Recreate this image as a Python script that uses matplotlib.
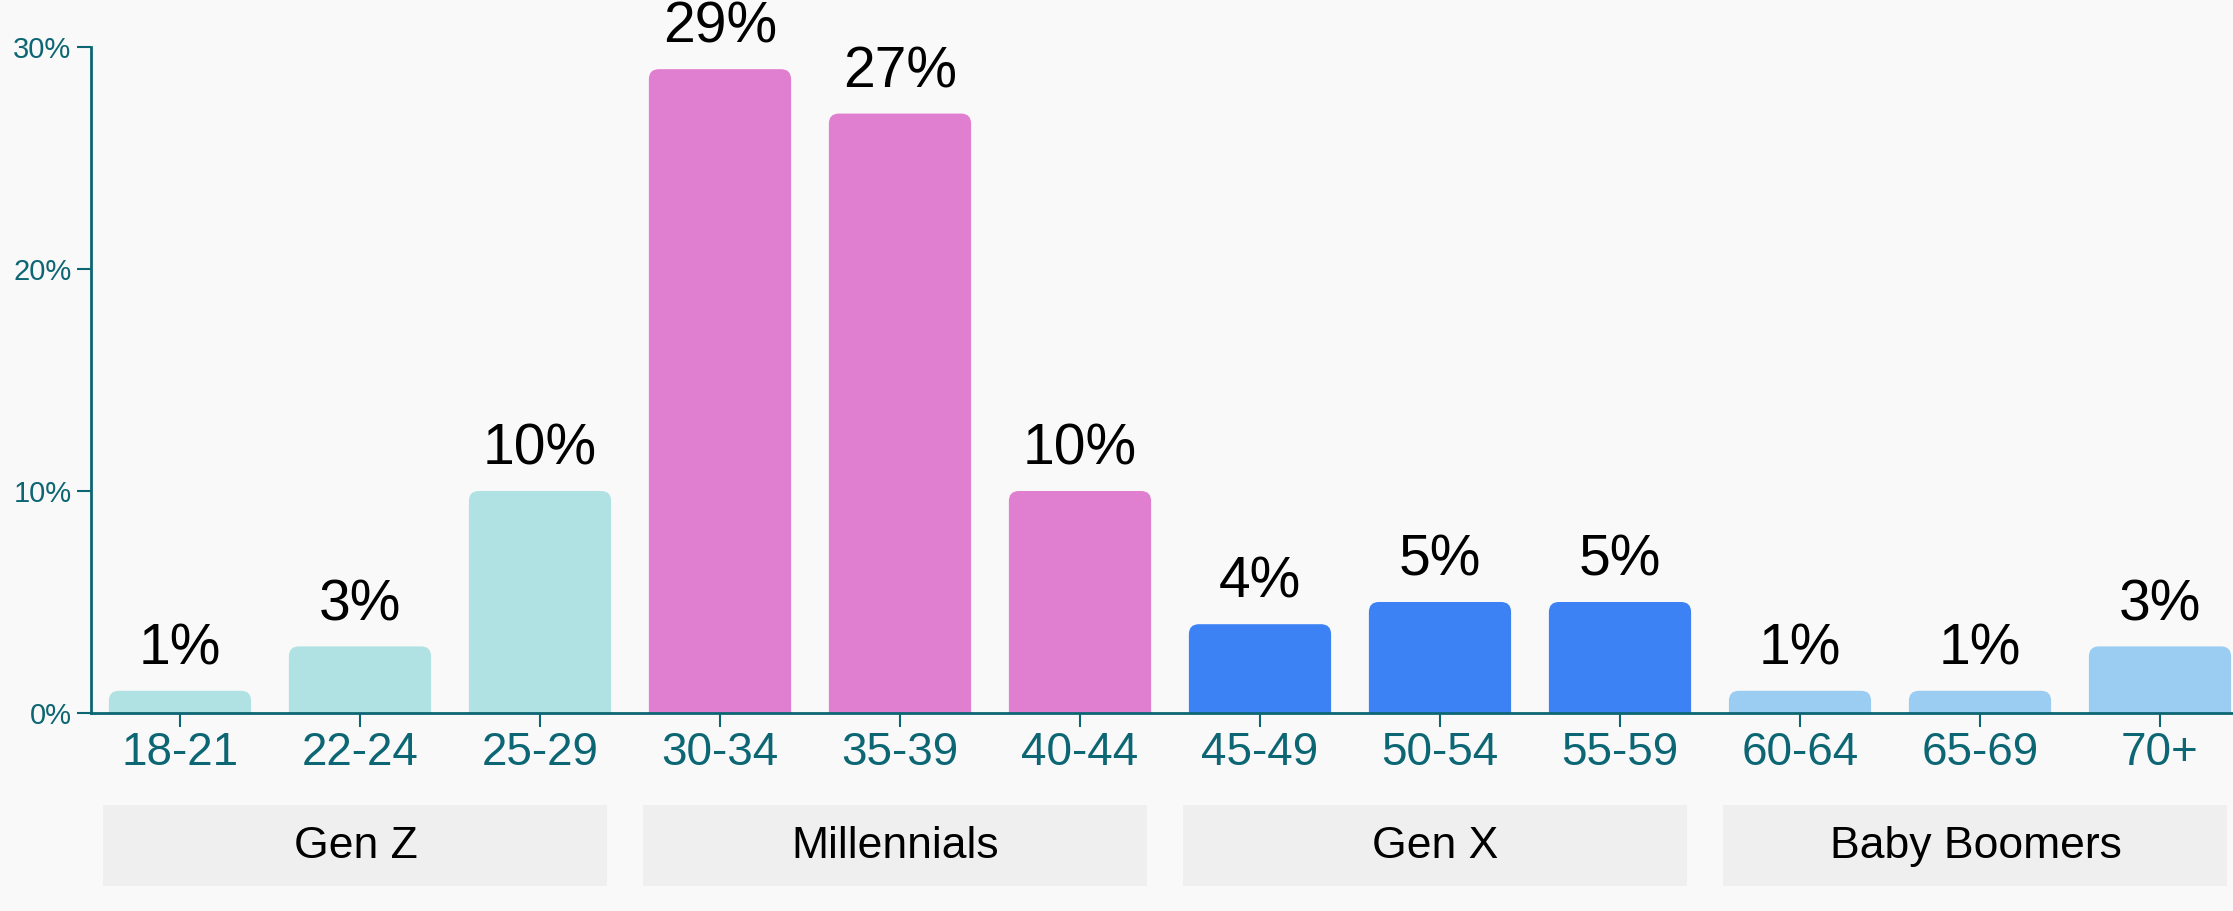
import matplotlib
matplotlib.use("Agg")
import matplotlib.pyplot as plt
from matplotlib.patches import FancyBboxPatch, Rectangle
import matplotlib.transforms as mtransforms

plt.rcParams['font.family'] = ['Liberation Sans', 'DejaVu Sans']

categories = ["18-21", "22-24", "25-29", "30-34", "35-39", "40-44",
              "45-49", "50-54", "55-59", "60-64", "65-69", "70+"]
values = [1, 3, 10, 29, 27, 10, 4, 5, 5, 1, 1, 3]
groups = ["Gen Z", "Millennials", "Gen X", "Baby Boomers"]
group_members = [[0, 1, 2], [3, 4, 5], [6, 7, 8], [9, 10, 11]]
group_colors = ["#b0e2e3", "#e07fcf", "#3d82f5", "#9bcdf3"]
yticks = [0, 10, 20, 30]

BG = "#f9f9f9"
TEAL = "#0d6673"
BOX = "#efefef"

fig = plt.figure(figsize=(22.33, 9.11), dpi=100, facecolor=BG)
ax = fig.add_axes([0.04075, 0.21734, 0.95925, 0.7311])
ax.set_facecolor(BG)

ax.set_xlim(-0.4944, 11.4056)
ax.set_ylim(0, 30)

fig.canvas.draw()
# pixels per data unit to build rounded corners with equal pixel radius
p0 = ax.transData.transform((0, 0))
p1 = ax.transData.transform((1, 1))
px_x = p1[0] - p0[0]
px_y = p1[1] - p0[1]
aspect = px_x / px_y
radius_px = 10
r_x = radius_px / px_x

bar_width = 0.79
for gi, members in enumerate(group_members):
    for i in members:
        v = values[i]
        patch = FancyBboxPatch((i - bar_width / 2, -2), bar_width, v + 2,
                               boxstyle=f"round,pad=0,rounding_size={r_x}",
                               mutation_aspect=aspect,
                               facecolor=group_colors[gi], edgecolor="none",
                               zorder=2, clip_on=True)
        ax.add_patch(patch)
        ax.annotate(f"{v}%", xy=(i, v), xytext=(0, 19), textcoords="offset points",
                    ha="center", va="baseline", fontsize=41, color="black",
                    annotation_clip=False)

ax.set_xticks(range(len(categories)))
ax.set_xticklabels(categories)
ax.set_yticks(yticks)
ax.set_yticklabels([f"{t}%" for t in yticks])

for s in ["top", "right"]:
    ax.spines[s].set_visible(False)
for s in ["left", "bottom"]:
    ax.spines[s].set_color(TEAL)
    ax.spines[s].set_linewidth(2)
    ax.spines[s].set_zorder(3)

ax.tick_params(axis="x", length=10, width=1.5, color=TEAL, labelcolor=TEAL,
               labelsize=33, pad=3)
ax.tick_params(axis="y", length=10, width=1.5, color=TEAL, labelcolor=TEAL,
               labelsize=21, pad=4)

# group boxes under the axis
trans = mtransforms.blended_transform_factory(ax.transData, ax.transAxes)
box_w = 2.8
for gi, members in enumerate(group_members):
    c = sum(members) / len(members) - 0.025
    rect = Rectangle((c - box_w / 2, -0.2598), box_w, 0.1217, transform=trans,
                     facecolor=BOX, edgecolor="none", clip_on=False, zorder=1)
    ax.add_patch(rect)
    ax.text(c, -0.1997, groups[gi], transform=trans, ha="center", va="center",
            fontsize=32, color="black", clip_on=False)

fig.savefig("out.png", dpi=100, facecolor=BG)
